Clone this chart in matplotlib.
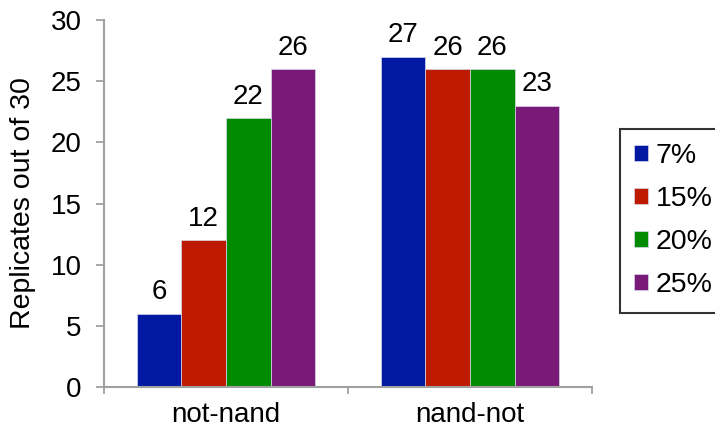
import numpy as np
import matplotlib
matplotlib.use('Agg')
import matplotlib.pyplot as plt

plt.rcParams['font.family'] = ['Liberation Sans', 'DejaVu Sans']

groups = ['not-nand', 'nand-not']
series = ['7%', '15%', '20%', '25%']
values = {
    '7%': [6, 27],
    '15%': [12, 26],
    '20%': [22, 26],
    '25%': [26, 23],
}
colors = ['#0019A0', '#BD1A00', '#008A00', '#7A1A78']

fig = plt.figure(figsize=(7.15, 4.37), dpi=100)
ax = fig.add_axes([104 / 715, 50 / 437, 488 / 715, 367 / 437])

x = np.arange(len(groups)) + 0.5
w = 0.183
for i, (name, col) in enumerate(zip(series, colors)):
    pos = x + (i - 1.5) * w
    bars = ax.bar(pos, values[name], w, color=col, edgecolor='#d8d8e8',
                  linewidth=0.5, label=name)
    for b, v in zip(bars, values[name]):
        ax.annotate(str(v), (b.get_x() + b.get_width() / 2, v),
                    xytext=(0, 6), textcoords='offset points',
                    ha='center', va='bottom', fontsize=20)

ax.set_xlim(0, 2)
ax.set_ylim(0, 30)
ax.set_yticks(range(0, 31, 5))
ax.set_xticks([0, 1, 2])
ax.set_xticklabels([])
ax.set_xticks(x, minor=True)
ax.set_xticklabels(groups, minor=True, fontsize=20)
ax.tick_params(axis='x', which='minor', length=0, pad=11)
ax.tick_params(axis='x', which='major', length=5, width=1.3, color='#a0a0a0')
ax.tick_params(axis='y', length=6, width=1.3, color='#a0a0a0', labelsize=20, pad=10)
ax.set_ylabel('Replicates out of 30', fontsize=20.5)
ax.yaxis.set_label_coords(-0.14, 0.5)

for s in ['top', 'right']:
    ax.spines[s].set_visible(False)
for s in ['left', 'bottom']:
    ax.spines[s].set_color('#a0a0a0')
    ax.spines[s].set_linewidth(1.5)

leg = ax.legend(loc='upper left', bbox_to_anchor=(620 / 715, 1 - 129 / 437),
                bbox_transform=fig.transFigure, fontsize=20.5, frameon=True,
                fancybox=False, edgecolor='black', handlelength=0.5,
                handleheight=0.5, handletextpad=0.25, labelspacing=0.6,
                borderpad=0.5, borderaxespad=0)
leg.get_frame().set_linewidth(1.5)

fig.savefig('out.png', dpi=100)
